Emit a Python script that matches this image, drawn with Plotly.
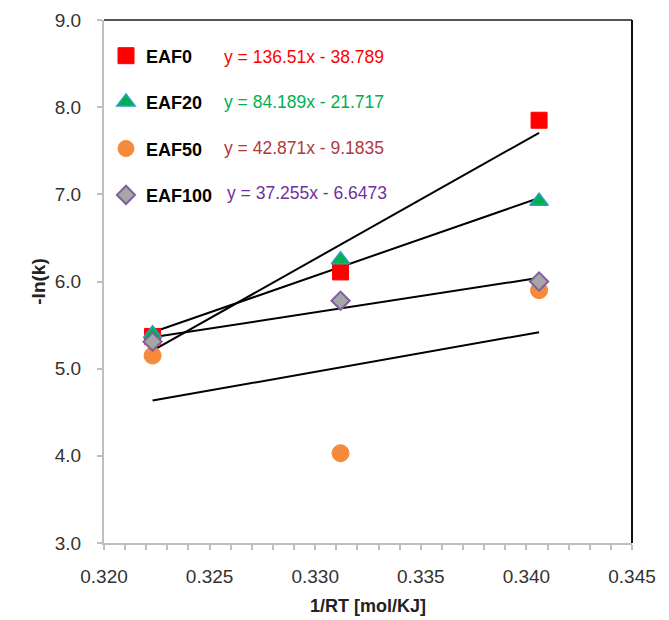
import plotly.graph_objects as go

# Data
x_vals = [0.3223, 0.3312, 0.3406]
series_names = ["EAF0", "EAF20", "EAF50", "EAF100"]
eaf0 = [5.37, 6.11, 7.85]
eaf20 = [5.40, 6.25, 6.92]
eaf50 = [5.15, 4.03, 5.90]
eaf100 = [5.31, 5.78, 6.00]
slopes = [136.51, 84.189, 42.871, 37.255]
intercepts = [38.789, 21.717, 9.1835, 6.6473]
equations = ["y = 136.51x - 38.789", "y = 84.189x - 21.717",
             "y = 42.871x - 9.1835", "y = 37.255x - 6.6473"]
x_ticks = [0.320, 0.325, 0.330, 0.335, 0.340, 0.345]
y_ticks = [3, 4, 5, 6, 7, 8, 9]

series_values = [eaf0, eaf20, eaf50, eaf100]
styles = [
    dict(symbol="square", size=16, color="#FF0000", line=dict(color="#FF0000", width=1)),
    dict(symbol="triangle-up", size=16, color="#00B050", line=dict(color="#2C9FC0", width=1.5)),
    dict(symbol="circle", size=17, color="#F58B3A", line=dict(color="#F58B3A", width=1)),
    dict(symbol="diamond", size=14, color="#A6A6A6", line=dict(color="#7E5FA0", width=2)),
]
eq_colors = ["#FF0000", "#00B050", "#B03A3A", "#7030A0"]
eq_y_px = [57, 102, 148, 193]
eq_x_px = [222, 222, 222, 225]

fig = go.Figure()

# Trendlines first (drawn under markers)
for s, b in zip(slopes, intercepts):
    xs = [x_vals[0], x_vals[-1]]
    ys = [s * xv - b for xv in xs]
    fig.add_trace(go.Scatter(x=xs, y=ys, mode="lines", showlegend=False,
                             line=dict(color="black", width=2), hoverinfo="skip"))

for name, vals, st in zip(series_names, series_values, styles):
    fig.add_trace(go.Scatter(x=x_vals, y=vals, mode="markers", name=name,
                             legendgroup=name, marker=st))

L, R, T, B = 104, 37, 19.5, 77
W, H = 669, 620
pw = W - L - R
ph = H - T - B

FONT = "Arial, Liberation Sans"
annotations = []
for eq, c, xp, yp in zip(equations, eq_colors, eq_x_px, eq_y_px):
    annotations.append(dict(
        text=eq, xref="paper", yref="paper",
        x=(xp - L) / pw, y=(H - B - yp) / ph,
        xanchor="left", yanchor="middle", showarrow=False,
        font=dict(family=FONT, size=17.5, color=c)))

fig.update_layout(
    width=W, height=H,
    margin=dict(l=L, r=R, t=T, b=B, autoexpand=False),
    paper_bgcolor="white", plot_bgcolor="white",
    font=dict(family=FONT, size=16, color="#404040"),
    showlegend=True,
    legend=dict(x=(106 - L) / pw, y=(H - B - 37) / ph, xanchor="left", yanchor="top",
                bgcolor="rgba(0,0,0,0)", tracegroupgap=20,
                font=dict(family=FONT, size=18, color="black", weight="bold")),
    annotations=annotations,
    shapes=[
        dict(type="line", xref="paper", yref="paper", x0=0, x1=1, y0=1, y1=1,
             line=dict(color="#555555", width=2)),
        dict(type="line", xref="paper", yref="paper", x0=1, x1=1, y0=0, y1=1,
             line=dict(color="#111111", width=2)),
    ],
)

fig.update_xaxes(
    range=[0.320, 0.345], tickvals=x_ticks, tickformat=".3f",
    showgrid=False, zeroline=False, automargin=False,
    showline=True, linecolor="#BFBFBF", linewidth=2,
    ticks="outside", ticklen=5, tickcolor="#BFBFBF", tickwidth=1.5,
    ticklabelstandoff=10,
    minor=dict(dtick=0.001, ticks="outside", ticklen=5, tickcolor="#BFBFBF", tickwidth=1.5),
    tickfont=dict(size=19, color="#333333"),
    title=dict(text="1/RT [mol/KJ]", standoff=14,
               font=dict(size=18, color="#222222", weight="bold")),
)
fig.update_yaxes(
    range=[3, 9], tickvals=y_ticks, tickformat=".1f",
    showgrid=False, zeroline=False, automargin=False,
    showline=True, linecolor="#BFBFBF", linewidth=2,
    ticks="outside", ticklen=5, tickcolor="#BFBFBF", tickwidth=1.5,
    ticklabelstandoff=12,
    tickfont=dict(size=19, color="#333333"),
    title=dict(text="-ln(k)", standoff=4,
               font=dict(size=19, color="#222222", weight="bold")),
)

fig.write_html("out.html")
